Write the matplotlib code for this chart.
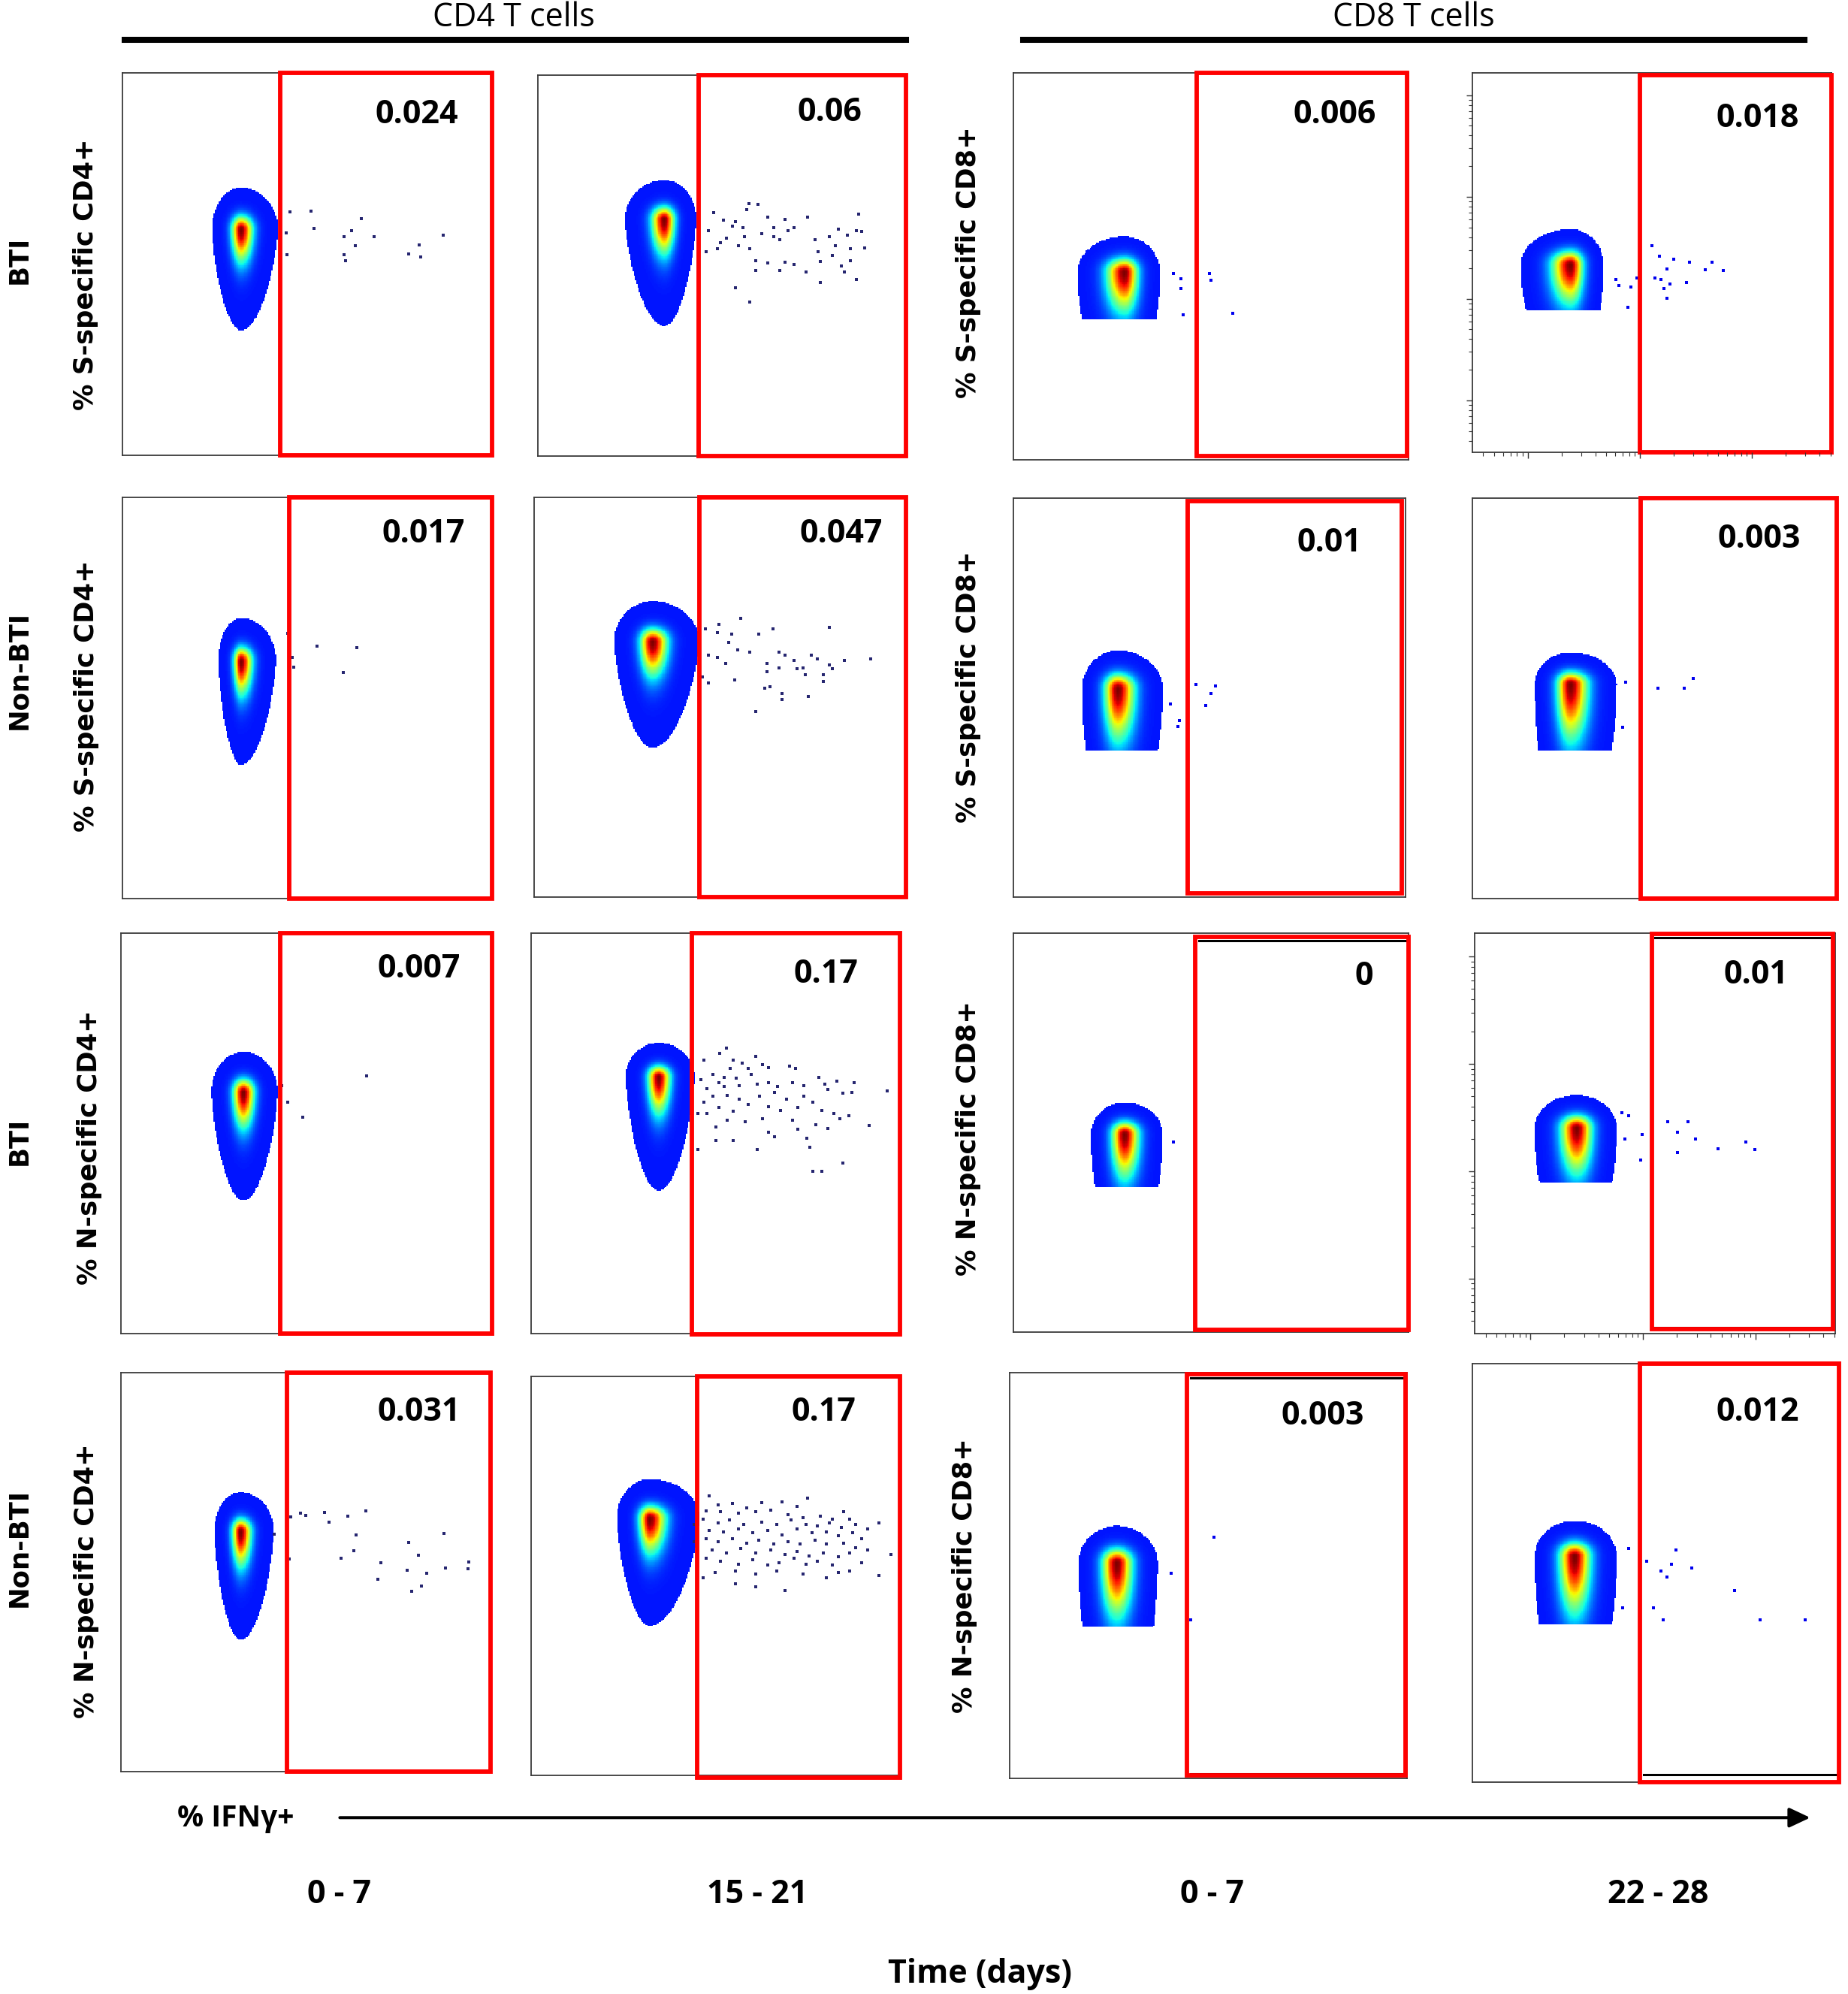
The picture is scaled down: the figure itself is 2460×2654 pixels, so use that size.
import numpy as np
import matplotlib
matplotlib.use("Agg")
import matplotlib.pyplot as plt
from matplotlib.patches import Rectangle, FancyArrowPatch
from matplotlib import colors

# ---------------- data ----------------
cell_types = ["CD4 T cells", "CD8 T cells"]
groups = ["BTI", "Non-BTI", "BTI", "Non-BTI"]
markers_cd4 = ["% S-specific CD4+", "% S-specific CD4+", "% N-specific CD4+", "% N-specific CD4+"]
markers_cd8 = ["% S-specific CD8+", "% S-specific CD8+", "% N-specific CD8+", "% N-specific CD8+"]
time_labels = ["0 - 7", "15 - 21", "0 - 7", "22 - 28"]
x_label = "% IFN\u03b3+"
time_title = "Time (days)"

# % IFNg+ in gate, rows = BTI/NonBTI x S/N, cols = CD4 t1, CD4 t2, CD8 t1, CD8 t2
gate_r0 = [0.024, 0.06, 0.006, 0.018]
gate_r1 = [0.017, 0.047, 0.01, 0.003]
gate_r2 = [0.007, 0.17, 0, 0.01]
gate_r3 = [0.031, 0.17, 0.003, 0.012]

# main population (normalized channel units): peak x, peak y, extents left/right/up/down
blob_cx = [0.321, 0.343, 0.281, 0.273, 0.321, 0.318, 0.266, 0.269,
           0.330, 0.346, 0.281, 0.283, 0.324, 0.322, 0.269, 0.278]
blob_cy = [0.590, 0.619, 0.484, 0.493, 0.590, 0.637, 0.521, 0.535,
           0.602, 0.640, 0.495, 0.513, 0.600, 0.642, 0.531, 0.540]
blob_left = [0.079, 0.107, 0.119, 0.138, 0.062, 0.103, 0.091, 0.098,
             0.086, 0.090, 0.084, 0.117, 0.072, 0.090, 0.096, 0.108]
blob_right = [0.100, 0.087, 0.090, 0.092, 0.095, 0.125, 0.114, 0.126,
              0.093, 0.097, 0.097, 0.110, 0.090, 0.135, 0.103, 0.115]
blob_up = [0.110, 0.104, 0.092, 0.094, 0.108, 0.102, 0.096, 0.080,
           0.102, 0.086, 0.080, 0.083, 0.099, 0.099, 0.091, 0.085]
blob_down = [0.263, 0.278, 0.27, 0.27, 0.257, 0.264, 0.34, 0.37,
             0.270, 0.283, 0.29, 0.30, 0.270, 0.268, 0.35, 0.36]
blob_cut = [None, None, 0.362, 0.372, None, None, 0.367, 0.369,
            None, None, 0.364, 0.376, None, None, 0.374, 0.378]

# individual events (normalized channel units x, y)
ev_r0c0 = [(0.51, 0.638), (0.518, 0.592), (0.454, 0.636), (0.647, 0.618), (0.62, 0.586),
           (0.599, 0.572), (0.682, 0.572), (0.631, 0.548), (0.803, 0.55), (0.807, 0.518),
           (0.775, 0.526), (0.868, 0.576), (0.599, 0.524), (0.604, 0.508), (0.443, 0.58),
           (0.446, 0.524)]
ev_r0c1 = [(0.573, 0.664), (0.597, 0.662), (0.568, 0.648), (0.477, 0.64), (0.504, 0.62),
           (0.536, 0.616), (0.528, 0.604), (0.557, 0.60), (0.624, 0.628), (0.672, 0.622),
           (0.733, 0.628), (0.872, 0.636), (0.64, 0.60), (0.68, 0.592), (0.696, 0.60),
           (0.64, 0.576), (0.608, 0.584), (0.656, 0.568), (0.512, 0.572), (0.496, 0.56),
           (0.544, 0.552), (0.576, 0.544), (0.56, 0.576), (0.816, 0.596), (0.864, 0.592),
           (0.88, 0.59), (0.84, 0.58), (0.792, 0.576), (0.752, 0.568), (0.808, 0.552),
           (0.848, 0.544), (0.888, 0.546), (0.76, 0.536), (0.80, 0.528), (0.848, 0.514),
           (0.592, 0.514), (0.624, 0.508), (0.672, 0.51), (0.696, 0.504), (0.768, 0.512),
           (0.824, 0.50), (0.592, 0.488), (0.656, 0.488), (0.728, 0.484), (0.832, 0.484),
           (0.768, 0.456), (0.864, 0.464), (0.536, 0.442), (0.576, 0.404), (0.464, 0.592),
           (0.456, 0.536), (0.488, 0.544)]
ev_r0c2 = [(0.406, 0.481), (0.424, 0.469), (0.425, 0.442), (0.431, 0.375), (0.496, 0.481),
           (0.50, 0.465), (0.555, 0.379)]
ev_r0c3 = [(0.40, 0.456), (0.408, 0.44), (0.442, 0.435), (0.458, 0.46), (0.50, 0.544),
           (0.508, 0.46), (0.522, 0.516), (0.525, 0.456), (0.533, 0.431), (0.542, 0.407),
           (0.542, 0.484), (0.562, 0.508), (0.55, 0.444), (0.597, 0.448), (0.605, 0.50),
           (0.65, 0.481), (0.667, 0.50), (0.70, 0.48), (0.433, 0.383), (0.467, 0.387)]
ev_r1c0 = [(0.459, 0.601), (0.463, 0.576), (0.447, 0.66), (0.527, 0.628), (0.634, 0.625),
           (0.597, 0.5625)]
ev_r1c1 = [(0.556, 0.697), (0.497, 0.682), (0.46, 0.671), (0.492, 0.661), (0.532, 0.657),
           (0.603, 0.657), (0.643, 0.671), (0.794, 0.675), (0.524, 0.637), (0.548, 0.619),
           (0.579, 0.612), (0.468, 0.606), (0.492, 0.599), (0.516, 0.585), (0.627, 0.585),
           (0.659, 0.612), (0.675, 0.606), (0.698, 0.592), (0.722, 0.574), (0.746, 0.606),
           (0.762, 0.595), (0.794, 0.581), (0.802, 0.571), (0.833, 0.592), (0.905, 0.595),
           (0.627, 0.564), (0.659, 0.574), (0.706, 0.571), (0.73, 0.557), (0.778, 0.557),
           (0.778, 0.54), (0.54, 0.543), (0.468, 0.536), (0.619, 0.522), (0.635, 0.526),
           (0.667, 0.509), (0.667, 0.495), (0.738, 0.502), (0.595, 0.464), (0.452, 0.55)]
ev_r1c2 = [(0.465, 0.533), (0.515, 0.53), (0.503, 0.511), (0.491, 0.481), (0.424, 0.443),
           (0.42, 0.429), (0.40, 0.484)]
ev_r1c3 = [(0.51, 0.526), (0.583, 0.526), (0.607, 0.551), (0.414, 0.429), (0.422, 0.54)]
ev_r2c0 = [(0.662, 0.644), (0.489, 0.54), (0.449, 0.578), (0.433, 0.618)]
ev_r2c1 = [(0.529, 0.713), (0.511, 0.699), (0.468, 0.682), (0.548, 0.682), (0.572, 0.675),
           (0.609, 0.692), (0.628, 0.671), (0.588, 0.661), (0.54, 0.661), (0.492, 0.647),
           (0.524, 0.64), (0.556, 0.637), (0.596, 0.647), (0.644, 0.664), (0.70, 0.668),
           (0.716, 0.661), (0.46, 0.633), (0.508, 0.626), (0.476, 0.612), (0.524, 0.616),
           (0.564, 0.619), (0.612, 0.623), (0.644, 0.626), (0.668, 0.616), (0.708, 0.626),
           (0.74, 0.619), (0.78, 0.64), (0.796, 0.623), (0.829, 0.63), (0.877, 0.626),
           (0.965, 0.606), (0.492, 0.592), (0.532, 0.595), (0.564, 0.585), (0.62, 0.592),
           (0.66, 0.602), (0.692, 0.585), (0.74, 0.592), (0.764, 0.578), (0.804, 0.609),
           (0.845, 0.599), (0.869, 0.602), (0.468, 0.578), (0.508, 0.564), (0.548, 0.554),
           (0.588, 0.571), (0.644, 0.567), (0.676, 0.557), (0.724, 0.564), (0.788, 0.557),
           (0.821, 0.55), (0.861, 0.543), (0.476, 0.55), (0.532, 0.533), (0.58, 0.529),
           (0.628, 0.536), (0.708, 0.533), (0.772, 0.522), (0.804, 0.512), (0.837, 0.536),
           (0.917, 0.519), (0.50, 0.516), (0.644, 0.502), (0.724, 0.509), (0.748, 0.488),
           (0.66, 0.491), (0.548, 0.481), (0.50, 0.481), (0.612, 0.46), (0.756, 0.464),
           (0.845, 0.426), (0.764, 0.405), (0.788, 0.405), (0.452, 0.46), (0.452, 0.55)]
ev_r2c2 = [(0.406, 0.476)]
ev_r2c3 = [(0.408, 0.551), (0.428, 0.544), (0.416, 0.485), (0.464, 0.496), (0.461, 0.433),
           (0.535, 0.528), (0.592, 0.528), (0.562, 0.502), (0.613, 0.485), (0.562, 0.452),
           (0.674, 0.461), (0.753, 0.478), (0.778, 0.459)]
ev_r3c0 = [(0.459, 0.639), (0.486, 0.649), (0.499, 0.642), (0.55, 0.651), (0.563, 0.625),
           (0.614, 0.64), (0.662, 0.654), (0.635, 0.593), (0.63, 0.554), (0.595, 0.536),
           (0.702, 0.524), (0.778, 0.575), (0.805, 0.543), (0.874, 0.598), (0.694, 0.483),
           (0.774, 0.505), (0.826, 0.498), (0.877, 0.51), (0.941, 0.526), (0.938, 0.508),
           (0.813, 0.466), (0.786, 0.452), (0.455, 0.533), (0.415, 0.596)]
ev_r3c1 = [(0.482, 0.701), (0.75, 0.696), (0.506, 0.678), (0.545, 0.682), (0.585, 0.671),
           (0.625, 0.684), (0.681, 0.686), (0.721, 0.675), (0.848, 0.661), (0.474, 0.664),
           (0.514, 0.661), (0.561, 0.657), (0.609, 0.661), (0.649, 0.666), (0.697, 0.654),
           (0.737, 0.647), (0.785, 0.65), (0.817, 0.643), (0.864, 0.643), (0.944, 0.633),
           (0.466, 0.643), (0.506, 0.633), (0.537, 0.64), (0.577, 0.629), (0.625, 0.636),
           (0.665, 0.629), (0.705, 0.64), (0.745, 0.629), (0.777, 0.625), (0.809, 0.633),
           (0.841, 0.622), (0.88, 0.629), (0.912, 0.618), (0.482, 0.615), (0.522, 0.611),
           (0.561, 0.618), (0.601, 0.608), (0.641, 0.615), (0.681, 0.604), (0.721, 0.618),
           (0.761, 0.608), (0.801, 0.611), (0.833, 0.601), (0.872, 0.608), (0.896, 0.594),
           (0.474, 0.594), (0.506, 0.587), (0.545, 0.594), (0.585, 0.583), (0.617, 0.59),
           (0.657, 0.58), (0.697, 0.587), (0.729, 0.58), (0.769, 0.59), (0.801, 0.58),
           (0.848, 0.583), (0.88, 0.572), (0.49, 0.565), (0.53, 0.558), (0.569, 0.569),
           (0.609, 0.558), (0.649, 0.565), (0.689, 0.555), (0.721, 0.562), (0.753, 0.551),
           (0.793, 0.558), (0.833, 0.548), (0.864, 0.558), (0.912, 0.565), (0.976, 0.555),
           (0.474, 0.544), (0.514, 0.537), (0.561, 0.53), (0.601, 0.541), (0.641, 0.527),
           (0.673, 0.534), (0.713, 0.544), (0.745, 0.53), (0.777, 0.537), (0.817, 0.527),
           (0.864, 0.512), (0.896, 0.534), (0.944, 0.502), (0.498, 0.509), (0.553, 0.512),
           (0.609, 0.505), (0.665, 0.512), (0.737, 0.505), (0.801, 0.495), (0.833, 0.509),
           (0.553, 0.481), (0.609, 0.473), (0.689, 0.463), (0.466, 0.495), (0.442, 0.587),
           (0.442, 0.629)]
ev_r3c2 = [(0.514, 0.594), (0.455, 0.39), (0.406, 0.505)]
ev_r3c3 = [(0.427, 0.558), (0.411, 0.417), (0.475, 0.528), (0.494, 0.417), (0.52, 0.387),
           (0.515, 0.504), (0.531, 0.491), (0.544, 0.52), (0.555, 0.555), (0.598, 0.511),
           (0.715, 0.457), (0.784, 0.387), (0.907, 0.387)]

gate_values = [gate_r0, gate_r1, gate_r2, gate_r3]
events = [ev_r0c0, ev_r0c1, ev_r0c2, ev_r0c3, ev_r1c0, ev_r1c1, ev_r1c2, ev_r1c3,
          ev_r2c0, ev_r2c1, ev_r2c2, ev_r2c3, ev_r3c0, ev_r3c1, ev_r3c2, ev_r3c3]

# ---------------- layout (reference pixel grid 1450 wide) ----------------
W, H = 2460, 2654
DW = 1450.0
DH = H * DW / W

frames = [(96, 57, 386, 357), (422, 59, 711, 358), (795, 57, 1105, 361), (1155, 57, 1437, 355),
          (96, 390, 386, 705), (419, 390, 711, 704), (795, 391, 1103, 704), (1155, 391, 1441, 705),
          (95, 732, 386, 1046), (417, 732, 706, 1046), (795, 732, 1105, 1045), (1157, 732, 1440, 1046),
          (95, 1077, 385, 1390), (417, 1080, 706, 1393), (792, 1077, 1104, 1395), (1155, 1070, 1443, 1398)]
gates = [(0.428, 0, 1, 1), (0.436, 0, 1, 1), (0.465, 0.01, 0.997, 1), (0.468, 0, 1, 0.993),
         (0.452, 0, 1, 1), (0.445, 0, 1, 1), (0.445, 0.01, 0.99, 0.994), (0.462, 0, 1, 1),
         (0.430, 0, 1, 1), (0.436, -0.003, 1, 1), (0.461, 0.006, 1, 0.99), (0.491, 0.01, 0.993, 0.997),
         (0.448, 0, 1, 1), (0.450, -0.006, 1, 1), (0.446, 0.006, 0.997, 0.997), (0.458, 0, 1, 1)]
value_pos = [(327, 90), (651, 88), (1047, 90), (1379, 93),
             (332, 419), (660, 419), (1043, 426), (1380, 423),
             (329, 760), (648, 764), (1070, 766), (1378, 765),
             (329, 1108), (646, 1108), (1038, 1111), (1379, 1108)]
inner_lines = {10: [0.981], 11: [0.988, 0.015], 14: [0.988, 0.01], 15: [0.017]}
tick_panels = [3, 11]
group_pos = [(15, 204), (15, 526), (15, 895), (15, 1214)]
cd4_label_pos = [(67, 215), (68, 546), (70, 900), (68, 1240)]
cd8_label_pos = [(760, 206), (760, 539), (760, 893), (757, 1236)]
time_pos = [(266, 1486), (594, 1486), (951, 1486), (1301, 1486)]

CAL = ["Open Sans", "DejaVu Sans"]
VER = ["DejaVu Sans"]


def fx(x):
    return x / DW


def fy(y):
    return 1 - y / DH


fig = plt.figure(figsize=(W / 100, H / 100), dpi=100)
fig.patch.set_facecolor("white")

N = 300
g = (np.arange(N) + 0.5) / N
X, Y = np.meshgrid(g, g)
K = 3.2
cmap = plt.get_cmap("jet")
norm = colors.Normalize(vmin=-0.17, vmax=1.0)

for p in range(16):
    r, c = divmod(p, 4)
    x0, y0, x1, y1 = frames[p]
    ax = fig.add_axes([fx(x0), fy(y1), (x1 - x0) / DW, (y1 - y0) / DH])
    ax.set_xlim(0, 1)
    ax.set_ylim(0, 1)
    ax.set_xticks([])
    ax.set_yticks([])
    for s in ax.spines.values():
        s.set_color("#3a3a3a")
        s.set_linewidth(1.3)

    # population density
    cd8 = blob_cut[p] is not None
    taper = 0.0 if cd8 else 0.2
    gamma = 1.6 if cd8 else 2.2
    dx = X - blob_cx[p]
    dy = Y - blob_cy[p]
    t = np.clip(-dy / blob_down[p], 0, 1)
    sx = np.where(dx < 0, blob_left[p], blob_right[p]) / K * (1 - taper * t)
    sy = np.where(dy >= 0, blob_up[p], blob_down[p]) / K
    z = np.exp(-0.5 * ((dx / sx) ** 2 + (dy / sy) ** 2))
    z[z < np.exp(-0.5 * K * K)] = np.nan
    if cd8:
        z[Y < blob_cut[p]] = np.nan
    ax.imshow(z ** gamma, extent=(0, 1, 0, 1), origin="lower", cmap=cmap, norm=norm,
              interpolation="nearest", aspect="auto", zorder=1)

    ev = np.array(events[p])
    ax.scatter(ev[:, 0], ev[:, 1], s=7, marker="s", linewidths=0,
               c="#0000ee" if cd8 else "#262670", zorder=2)

    gx0, gy0, gx1, gy1 = gates[p]
    ax.add_patch(Rectangle((gx0, gy0), gx1 - gx0, gy1 - gy0, transform=ax.transAxes,
                           fill=False, edgecolor="#ff0000", linewidth=4.2,
                           clip_on=False, zorder=5))
    for yl in inner_lines.get(p, []):
        ax.plot([gx0 + 0.01, gx1 - 0.005], [yl, yl], color="black", lw=2.2,
                transform=ax.transAxes, clip_on=False, zorder=4)

    v = gate_values[r][c]
    vx, vy = value_pos[p]
    fig.text(fx(vx), fy(vy), f"{v:g}", ha="center", va="center",
             fontsize=31, fontweight="bold", family=CAL)

    if p in tick_panels:
        axt = fig.add_axes([fx(x0), fy(y1), (x1 - x0) / DW, (y1 - y0) / DH],
                           frameon=False, zorder=0)
        axt.patch.set_alpha(0)
        axt.set_xscale("log")
        axt.set_yscale("log")
        axt.set_xlim(10 ** 1.503, 10 ** 4.708)
        axt.set_ylim(10 ** 1.489, 10 ** 5.22)
        axt.tick_params(which="both", direction="out", labelbottom=False,
                        labelleft=False, color="#333333")
        axt.tick_params(which="major", length=6, width=1.0)
        axt.tick_params(which="minor", length=3.5, width=0.8)

# headers
for i, (cx, x_a, x_b) in enumerate([(403, 98, 711), (1109, 803, 1416)]):
    fig.text(fx(cx), fy(14), cell_types[i], ha="center", va="center",
             fontsize=31, family=CAL)
    fig.add_artist(plt.Line2D([fx(x_a), fx(x_b)], [fy(31.5), fy(31.5)],
                              color="black", lw=5.8, transform=fig.transFigure))

# row labels
for r in range(4):
    gx, gy = group_pos[r]
    fig.text(fx(gx), fy(gy), groups[r], rotation=90, ha="center", va="center",
             fontsize=25.5, fontweight="bold", family=VER)
    lx, ly = cd4_label_pos[r]
    fig.text(fx(lx), fy(ly), markers_cd4[r], rotation=90, ha="center", va="center",
             fontsize=25.5, fontweight="bold", family=VER)
    lx, ly = cd8_label_pos[r]
    fig.text(fx(lx), fy(ly), markers_cd8[r], rotation=90, ha="center", va="center",
             fontsize=25.5, fontweight="bold", family=VER)

# bottom axis annotation
fig.text(fx(185), fy(1427), x_label, ha="center", va="center",
         fontsize=28, fontweight="bold", family=CAL)
fig.add_artist(FancyArrowPatch((fx(265), fy(1426)), (fx(1422), fy(1426)),
                               transform=fig.transFigure,
                               arrowstyle="-|>,head_length=17,head_width=8",
                               mutation_scale=1, lw=2.9, color="black"))
for i, (tx, ty) in enumerate(time_pos):
    fig.text(fx(tx), fy(ty), time_labels[i], ha="center", va="center",
             fontsize=31, fontweight="bold", family=CAL)
fig.text(fx(769), fy(1549), time_title, ha="center", va="center",
         fontsize=31, fontweight="bold", family=CAL)

fig.savefig("out.png", dpi=100, facecolor="white")
